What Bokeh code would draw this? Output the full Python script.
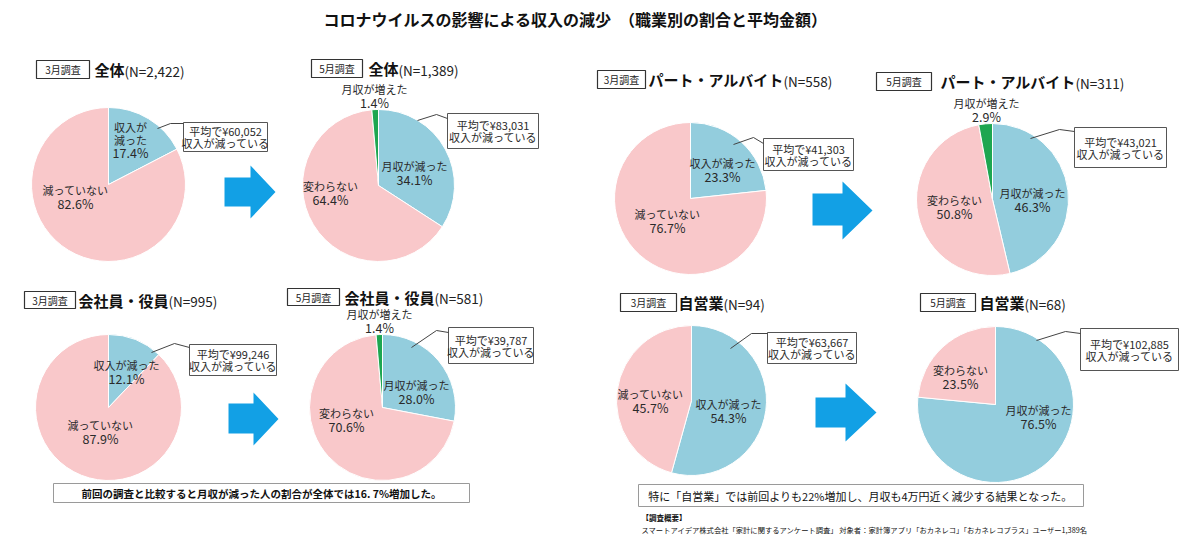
import math
from bokeh.plotting import figure
from bokeh.models import Range1d, ColumnDataSource
from bokeh.embed import file_html
from bokeh.resources import INLINE
from bokeh.core.properties import value

# ---------------- data ----------------
TITLE = "コロナウイルスの影響による収入の減少　（職業別の割合と平均金額）"
surveys = ["3月調査", "5月調査", "3月調査", "5月調査", "3月調査", "5月調査", "3月調査", "5月調査"]
groups = ["全体", "全体", "パート・アルバイト", "パート・アルバイト",
          "会社員・役員", "会社員・役員", "自営業", "自営業"]
n_counts = ["2,422", "1,389", "558", "311", "995", "581", "94", "68"]
decreased_pct = [17.4, 34.1, 23.3, 46.3, 12.1, 28.0, 54.3, 76.5]
unchanged_pct = [82.6, 64.4, 76.7, 50.8, 87.9, 70.6, 45.7, 23.5]
increased_pct = [0.0, 1.4, 0.0, 2.9, 0.0, 1.4, 0.0, 0.0]
avg_decrease_yen = ["60,052", "83,031", "41,303", "43,021", "99,246", "39,787", "63,667", "102,885"]
decreased_names = ["収入が\n減った", "月収が減った", "収入が減った", "月収が減った",
                   "収入が減った", "月収が減った", "収入が減った", "月収が減った"]
unchanged_names = ["減っていない", "変わらない", "減っていない", "変わらない",
                   "減っていない", "変わらない", "減っていない", "変わらない"]
increased_name = "月収が増えた"
callout_line2 = "収入が減っている"
note_left = "前回の調査と比較すると月収が減った人の割合が全体では16. 7%増加した。"
note_right = "特に「自営業」では前回よりも22%増加し、月収も4万円近く減少する結果となった。"
footnote_head = "【調査概要】"
footnote = "スマートアイデア株式会社「家計に関するアンケート調査」 対象者：家計簿アプリ「おカネレコ」「おカネレコプラス」ユーザー1,389名"

# ---------------- layout (image pixel coords, y downward) ----------------
pie_cx = [108, 378, 690, 992, 108, 382, 691, 995]
pie_cy = [184, 185, 198, 199, 407, 407, 400, 404]
pie_r = [77, 76, 76, 76, 73, 73, 75, 78]
hdr_box = [(36, 60, 89, 78), (311, 59, 362, 77), (597, 70, 645, 88), (876, 72, 931, 90),
           (24, 291, 75, 308), (287, 288, 339, 305), (620, 293, 676, 311), (920, 293, 975, 311)]
hdr_text_x = [94, 368, 648, 940, 78, 344, 678, 979]
dec_lbl = [(130, 126), (414, 165), (722, 162), (1032, 192), (126, 364), (416, 384), (728, 403), (1038, 409)]
unc_lbl = [(75, 189), (330, 185), (667, 213), (954, 199), (100, 424), (346, 412), (650, 393), (960, 369)]
inc_lbl = [None, (374, 88), None, (986, 102), None, (379, 313), None, None]
call_box = [(183, 122, 267, 151), (447, 113, 538, 148), (763, 138, 853, 170), (1074, 127, 1166, 167),
            (189, 344, 276, 375), (448, 327, 533, 363), (767, 332, 856, 363), (1080, 328, 1178, 370)]
leaders = [[(157, 128), (170, 123), (183, 123)], [(417, 120), (436, 114), (447, 118)],
           [(733, 144), (753, 137), (763, 143)], [(1030, 138), (1059, 129), (1074, 131)],
           [(151, 352), (174, 343), (189, 347)], [(411, 347), (436, 330), (448, 332)],
           [(730, 348), (751, 333), (767, 333)], [(1036, 340), (1065, 331), (1080, 333)]]
arrows = [(224, 250, 275, 165, 218, 177, 206), (812, 842, 872, 181, 239, 193, 225),
          (228, 253, 278, 392, 445, 403, 433), (815, 845, 876, 383, 441, 397, 427)]

FONT = "Noto Sans CJK JP"
C_PINK = "#F9C8CA"
C_BLUE = "#93CDDD"
C_GREEN = "#1EA650"
C_ARROW = "#12A0E5"
TXT = "#2a2a2a"

W, H = 1200, 540


def Y(y):
    return 540 - y


p = figure(width=W, height=H, x_range=Range1d(0, W), y_range=Range1d(0, H),
           output_backend="svg", toolbar_location=None, min_border=0)
p.axis.visible = False
p.grid.visible = False
p.outline_line_color = None
p.background_fill_color = "white"
p.border_fill_color = "white"

# ---------------- pies ----------------
wx, wy, wr, ws, we, wc = [], [], [], [], [], []
for i in range(8):
    vals = [decreased_pct[i], unchanged_pct[i], increased_pct[i]]
    cols = [C_BLUE, C_PINK, C_GREEN]
    tot = sum(vals)
    c0 = 0.0
    for v, c in zip(vals, cols):
        if v <= 0:
            continue
        c1 = c0 + v / tot
        wx.append(pie_cx[i]); wy.append(Y(pie_cy[i])); wr.append(pie_r[i])
        ws.append(math.pi / 2 - 2 * math.pi * c1)
        we.append(math.pi / 2 - 2 * math.pi * c0)
        wc.append(c)
        c0 = c1
src = ColumnDataSource(dict(x=wx, y=wy, r=wr, s=ws, e=we, c=wc))
p.wedge(x="x", y="y", radius="r", start_angle="s", end_angle="e", fill_color="c",
        line_color="white", line_width=1, source=src)

# ---------------- arrows ----------------
axs, ays = [], []
for (x0, xh, x1, yt, yb, bt, bb) in arrows:
    ym = (yt + yb) / 2
    axs.append([x0, xh, xh, x1, xh, xh, x0])
    ays.append([Y(bt), Y(bt), Y(yt), Y(ym), Y(yb), Y(bb), Y(bb)])
p.patches(axs, ays, fill_color=C_ARROW, line_color=None)

# ---------------- boxes ----------------
def boxes(lst, lc, lw=1):
    p.quad(left=[b[0] for b in lst], right=[b[2] for b in lst],
           top=[Y(b[1]) for b in lst], bottom=[Y(b[3]) for b in lst],
           fill_color="white", line_color=lc, line_width=lw)

boxes(hdr_box, "#333333", 1.2)
boxes(call_box, "#555555", 1)
boxes([(53, 483, 469, 502), (638, 484, 1083, 506)], "#9a9a9a", 1)

# leader lines
p.multi_line([[pt[0] for pt in l] for l in leaders], [[Y(pt[1]) for pt in l] for l in leaders],
             line_color="#444444", line_width=1)

# ---------------- texts ----------------
def txt(xs, ys, texts, size, align="center", bold=False, color=TXT):
    p.text(x=xs, y=[Y(v) for v in ys], text=texts, text_font=value(FONT),
           text_font_size=size, text_align=align, text_baseline="middle",
           text_color=color, text_font_style="bold" if bold else "normal")

txt([575], [18], [TITLE], "16px", bold=True, color="#111111")

# headers
bx, by, bt = [], [], []
gx, gy, gt = [], [], []
nx, ny, nt = [], [], []
GS = 15
for i in range(8):
    b = hdr_box[i]
    bx.append((b[0] + b[2]) / 2); by.append((b[1] + b[3]) / 2); bt.append(surveys[i])
    gx.append(hdr_text_x[i]); gy.append((b[1] + b[3]) / 2); gt.append(groups[i])
    nx.append(hdr_text_x[i] + len(groups[i]) * GS); ny.append((b[1] + b[3]) / 2 + 1)
    nt.append(f"(N={n_counts[i]})")
txt(bx, by, bt, "10px", color="#222222")
txt(gx, gy, gt, f"{GS}px", align="left", bold=True, color="#111111")
txt(nx, ny, nt, "13.5px", align="left", color="#222222")

# pie labels
lx, ly, lt = [], [], []
px_, py_, pt_ = [], [], []
LS = 14
for i in range(8):
    names = decreased_names[i].split("\n")
    sp = 13 if len(names) > 1 else LS
    for k, s in enumerate(names):
        lx.append(dec_lbl[i][0]); ly.append(dec_lbl[i][1] + k * sp); lt.append(s)
    px_.append(dec_lbl[i][0]); py_.append(dec_lbl[i][1] + len(names) * sp); pt_.append(f"{decreased_pct[i]:.1f}%")
    lx.append(unc_lbl[i][0]); ly.append(unc_lbl[i][1]); lt.append(unchanged_names[i])
    px_.append(unc_lbl[i][0]); py_.append(unc_lbl[i][1] + LS); pt_.append(f"{unchanged_pct[i]:.1f}%")
    if inc_lbl[i] is not None and increased_pct[i] > 0:
        lx.append(inc_lbl[i][0]); ly.append(inc_lbl[i][1]); lt.append(increased_name)
        px_.append(inc_lbl[i][0]); py_.append(inc_lbl[i][1] + LS); pt_.append(f"{increased_pct[i]:.1f}%")
txt(lx, ly, lt, "11px")
txt(px_, py_, pt_, "12.5px")

# callouts
cx, cy, ct = [], [], []
for i in range(8):
    b = call_box[i]
    mx = (b[0] + b[2]) / 2
    my = (b[1] + b[3]) / 2
    cx += [mx, mx]; cy += [my - 6, my + 6]
    ct += [f"平均で¥{avg_decrease_yen[i]}", callout_line2]
txt(cx, cy, ct, "11px")

# notes
txt([261], [493], [note_left], "10.5px", bold=True, color="#111111")
txt([860], [495], [note_right], "11px", color="#111111")
txt([641], [517], [footnote_head], "7.5px", align="left", bold=True, color="#111111")
txt([641], [529], [footnote], "7.3px", align="left", color="#111111")

open("out.html", "w").write(file_html(p, INLINE))
